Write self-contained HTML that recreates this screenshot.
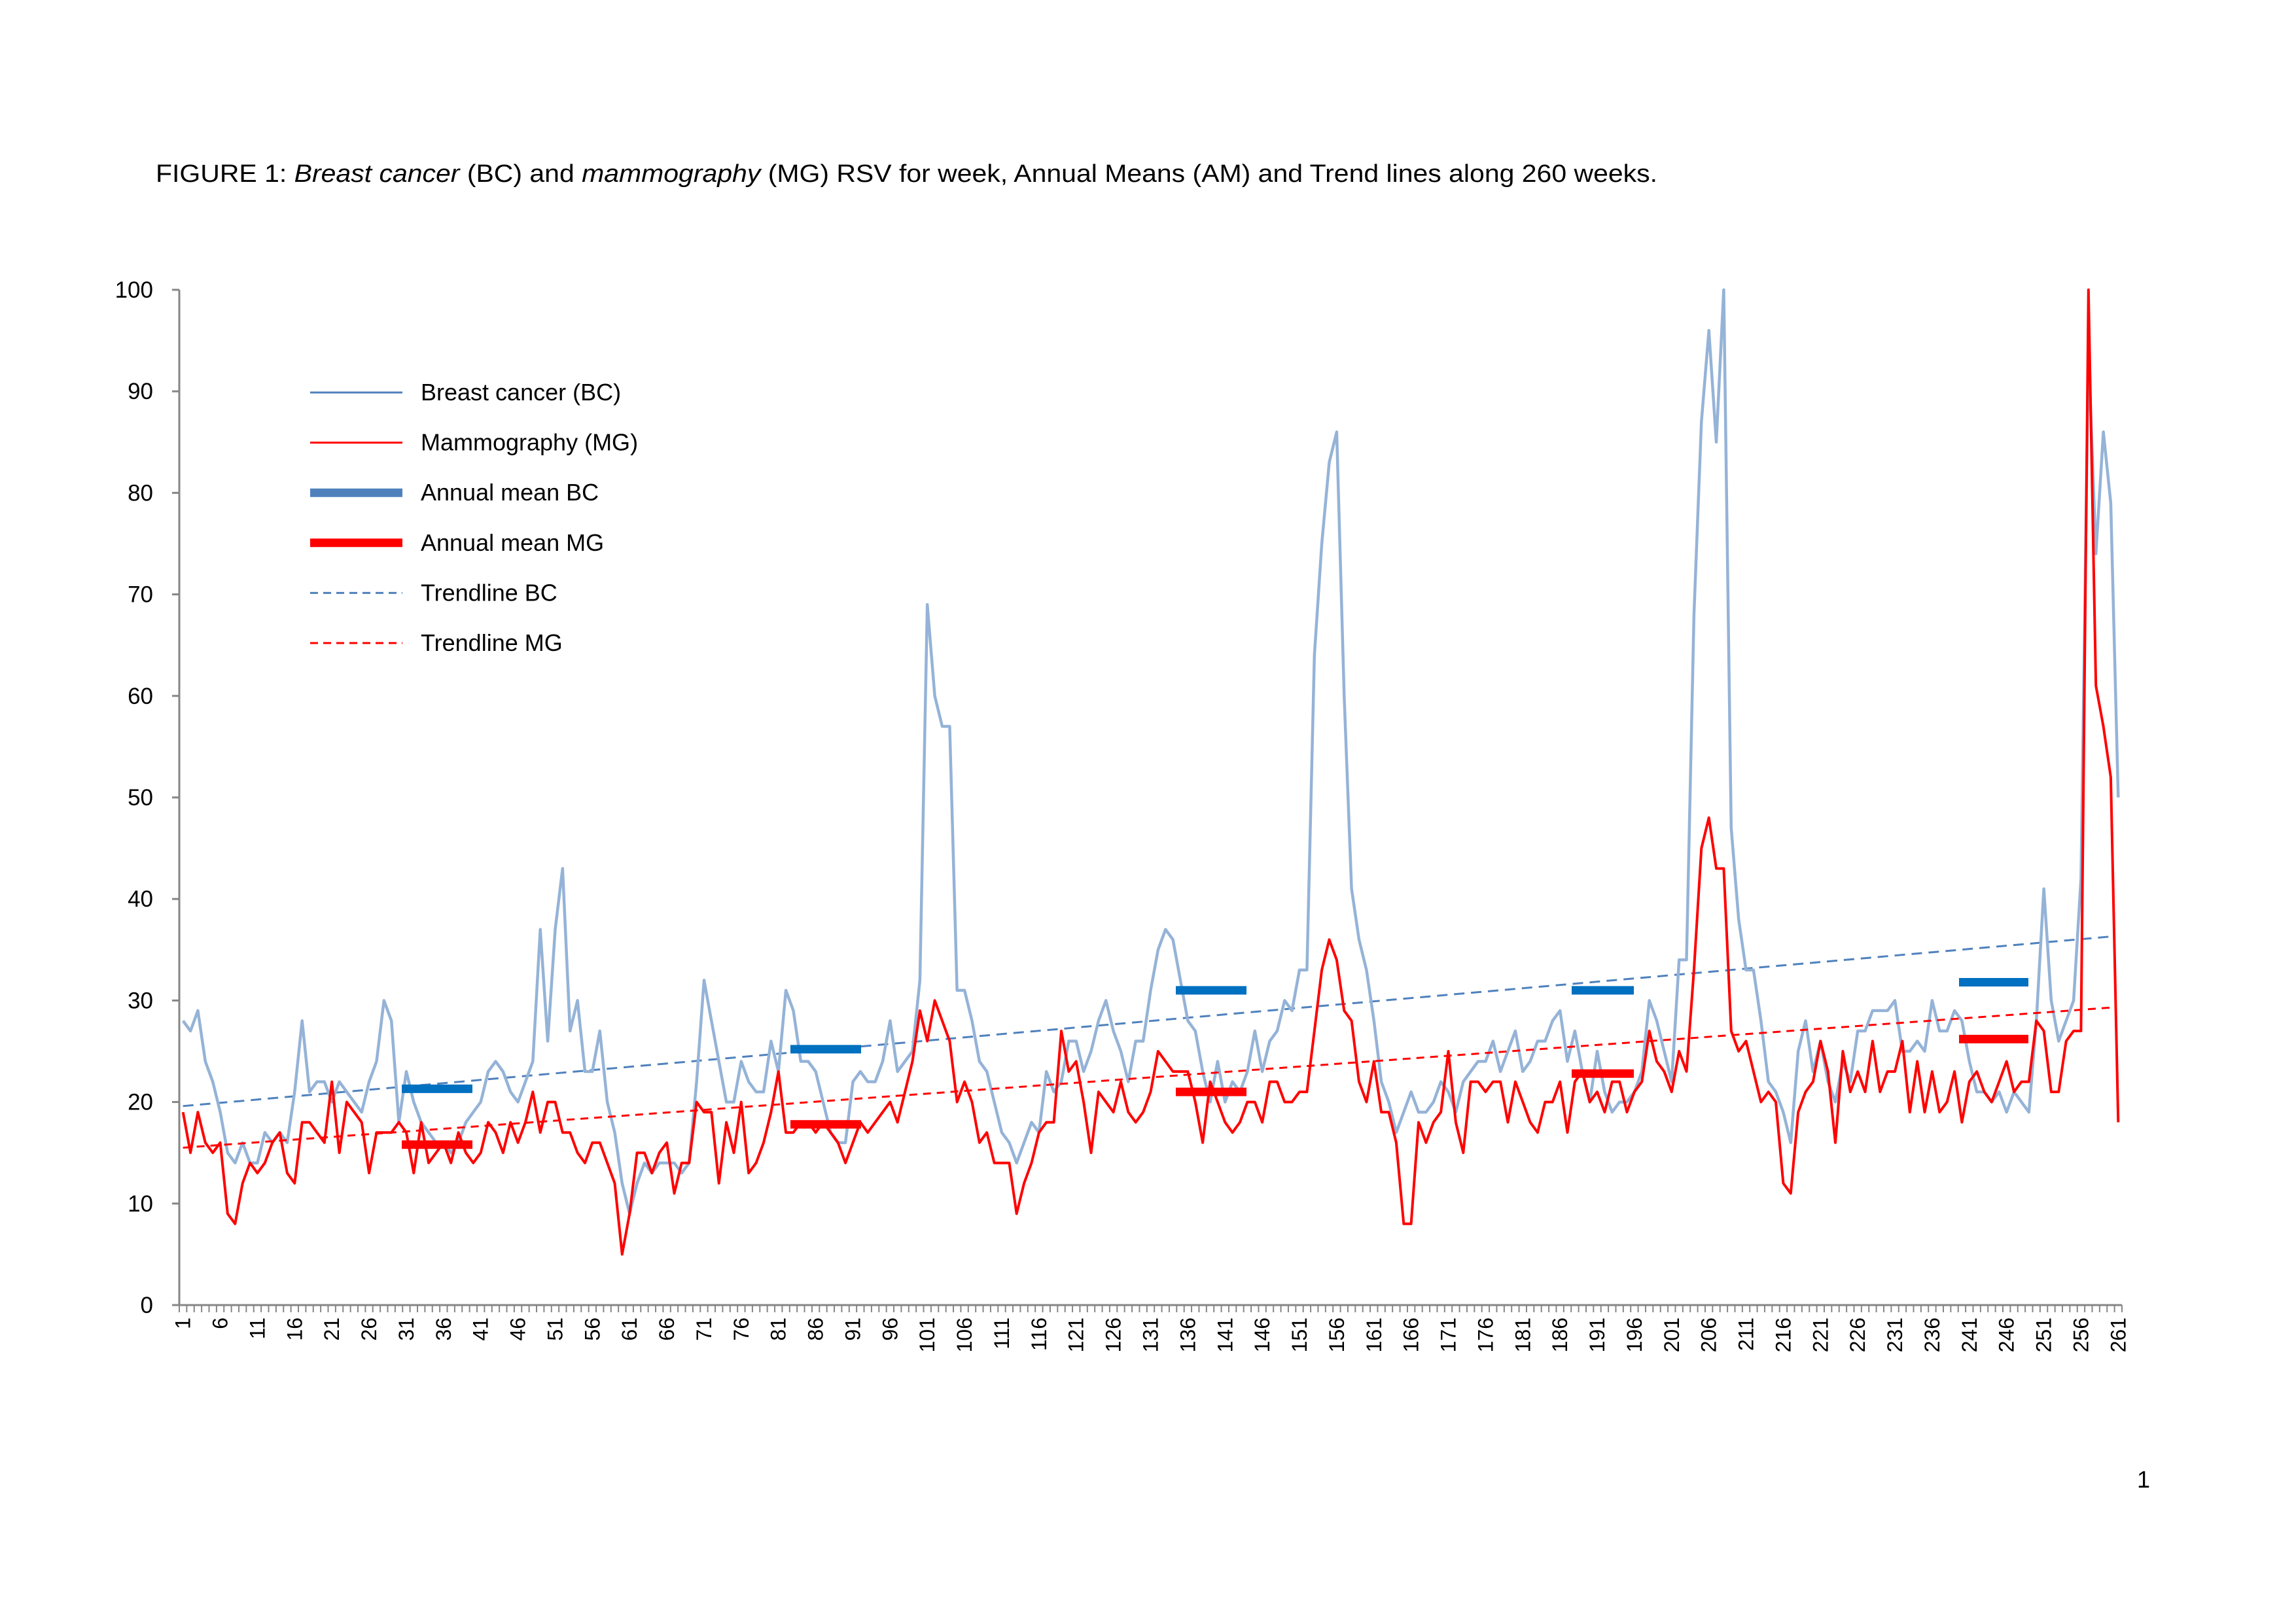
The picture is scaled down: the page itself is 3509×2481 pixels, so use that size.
<!DOCTYPE html>
<html><head><meta charset="utf-8"><style>
html,body{margin:0;padding:0;background:#fff;}
svg{display:block;}
</style></head><body>
<svg id="s" width="3509" height="2481" xmlns="http://www.w3.org/2000/svg" font-family="Liberation Sans, sans-serif">
<rect width="3509" height="2481" fill="#fff"/>
<text x="238" y="278" font-size="38" fill="#000" textLength="2295" lengthAdjust="spacingAndGlyphs">FIGURE 1: <tspan font-style="italic">Breast cancer</tspan> (BC) and <tspan font-style="italic">mammography</tspan> (MG) RSV for week, Annual Means (AM) and Trend lines along 260 weeks.</text>
<text x="3276" y="2274" font-size="36" text-anchor="middle">1</text>
<g id="g"></g>
</svg>
<script>
var BC=[28,27,29,24,22,19,15,14,16,14,14,17,16,17,16,21,28,21,22,22,20,22,21,20,19,22,24,30,28,18,23,20,18,17,16,16,15,16,18,19,20,23,24,23,21,20,22,24,37,26,37,43,27,30,23,23,27,20,17,12,9,12,14,13,14,14,14,13,14,22,32,28,24,20,20,24,22,21,21,26,23,31,29,24,24,23,20,17,16,16,22,23,22,22,24,28,23,24,25,32,69,60,57,57,31,31,28,24,23,20,17,16,14,16,18,17,23,21,22,26,26,23,25,28,30,27,25,22,26,26,31,35,37,36,32,28,27,23,20,24,20,22,21,23,27,23,26,27,30,29,33,33,64,75,83,86,60,41,36,33,28,22,20,17,19,21,19,19,20,22,21,19,22,23,24,24,26,23,25,27,23,24,26,26,28,29,24,27,23,20,25,21,19,20,20,21,23,30,28,25,22,34,34,68,87,96,85,100,47,38,33,33,28,22,21,19,16,25,28,23,26,22,20,24,22,27,27,29,29,29,30,25,25,26,25,30,27,27,29,28,24,21,21,20,21,19,21,20,19,28,41,30,26,28,30,42,94,74,86,79,50];
var MG=[19,15,19,16,15,16,9,8,12,14,13,14,16,17,13,12,18,18,17,16,22,15,20,19,18,13,17,17,17,18,17,13,18,14,15,16,14,17,15,14,15,18,17,15,18,16,18,21,17,20,20,17,17,15,14,16,16,14,12,5,9,15,15,13,15,16,11,14,14,20,19,19,12,18,15,20,13,14,16,19,23,17,17,18,18,17,18,17,16,14,16,18,17,18,19,20,18,21,24,29,26,30,28,26,20,22,20,16,17,14,14,14,9,12,14,17,18,18,27,23,24,20,15,21,20,19,22,19,18,19,21,25,24,23,23,23,20,16,22,20,18,17,18,20,20,18,22,22,20,20,21,21,27,33,36,34,29,28,22,20,24,19,19,16,8,8,18,16,18,19,25,18,15,22,22,21,22,22,18,22,20,18,17,20,20,22,17,22,23,20,21,19,22,22,19,21,22,27,24,23,21,25,23,33,45,48,43,43,27,25,26,23,20,21,20,12,11,19,21,22,26,23,16,25,21,23,21,26,21,23,23,26,19,24,19,23,19,20,23,18,22,23,21,20,22,24,21,22,22,28,27,21,21,26,27,27,100,61,57,52,18];
var L=274,R=3243,Y0=1995,K=15.52,N=261,sp=(R-L)/N;
function X(w){return L+(w-0.5)*sp;}function Y(v){return Y0-v*K;}
var h='';
h+='<line x1="'+L+'" y1="'+Y(100)+'" x2="'+L+'" y2="'+Y0+'" stroke="#868686" stroke-width="3"/>';
h+='<line x1="'+L+'" y1="'+Y0+'" x2="'+R+'" y2="'+Y0+'" stroke="#868686" stroke-width="3"/>';
for(var v=0;v<=100;v+=10){h+='<line x1="'+(L-11)+'" y1="'+Y(v)+'" x2="'+L+'" y2="'+Y(v)+'" stroke="#868686" stroke-width="3"/>';
h+='<text x="234" y="'+(Y(v)+12)+'" font-size="35" text-anchor="end">'+v+'</text>';}
for(var i=0;i<=N;i++){var x=L+i*sp;h+='<line x1="'+x+'" y1="'+Y0+'" x2="'+x+'" y2="'+(Y0+11)+'" stroke="#868686" stroke-width="2"/>';}
for(var w=1;w<=N;w+=5){var x=X(w)+11;h+='<text transform="translate('+x+',2014) rotate(-90)" font-size="32" text-anchor="end">'+w+'</text>';}
h+='<line x1="'+X(1)+'" y1="'+Y(19.6)+'" x2="'+X(260)+'" y2="'+Y(36.3)+'" stroke="#4F81BD" stroke-width="3" stroke-dasharray="16,10"/>';
function path(d,c,wd){var s='';for(var i=0;i<d.length;i++)s+=(i?'L':'M')+X(i+1).toFixed(1)+','+Y(d[i]).toFixed(1);return '<path d="'+s+'" fill="none" stroke="'+c+'" stroke-width="'+wd+'" stroke-linejoin="round"/>';}
h+=path(BC,'#95B3D7',4.5);
h+=path(MG,'#FF0000',4);
h+='<line x1="'+X(1)+'" y1="'+Y(15.5)+'" x2="'+X(260)+'" y2="'+Y(29.3)+'" stroke="#FF0000" stroke-width="3" stroke-dasharray="12,9"/>';
var am=[[614,722,21.3,15.8],[1208,1316,25.2,17.8],[1797,1905,31,21],[2402,2497,31,22.8],[2994,3100,31.8,26.2]];
am.forEach(function(a){h+='<line x1="'+a[0]+'" y1="'+Y(a[2])+'" x2="'+a[1]+'" y2="'+Y(a[2])+'" stroke="#0070C0" stroke-width="13"/>';
h+='<line x1="'+a[0]+'" y1="'+Y(a[3])+'" x2="'+a[1]+'" y2="'+Y(a[3])+'" stroke="#FF0000" stroke-width="13"/>';});
var leg=[['Breast cancer (BC)','#4F81BD',3,''],['Mammography (MG)','#FF0000',3,''],['Annual mean BC','#4F81BD',13,''],['Annual mean MG','#FF0000',13,''],['Trendline BC','#4F81BD',3,'12,8'],['Trendline MG','#FF0000',3,'12,8']];
leg.forEach(function(l,i){var y=600+i*76.6;h+='<line x1="474" y1="'+y+'" x2="615" y2="'+y+'" stroke="'+l[1]+'" stroke-width="'+l[2]+'"'+(l[3]?' stroke-dasharray="'+l[3]+'"':'')+'/>';
h+='<text x="643" y="'+(y+12)+'" font-size="36">'+l[0]+'</text>';});
document.getElementById('g').innerHTML=h;
</script>
</body></html>
